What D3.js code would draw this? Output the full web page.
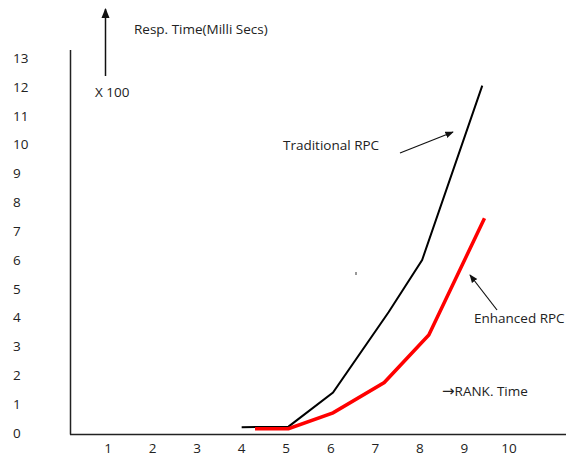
<!DOCTYPE html>
<html>
<head>
<meta charset="utf-8">
<script src="https://cdn.jsdelivr.net/npm/d3@7"></script>
<style>
  body { margin: 0; background: #fff; }
  text { font-family: "Open Sans", sans-serif; fill: #222; }
</style>
</head>
<body>
<div id="chart"></div>
<script>
const W = 566, H = 456;
const fs = "13.5px";

// rank ticks and response time ticks (x 100 ms)
const xTicks = [1, 2, 3, 4, 5, 6, 7, 8, 9, 10];
const yTicks = [0, 1, 2, 3, 4, 5, 6, 7, 8, 9, 10, 11, 12, 13];

// traditional RPC
const tradRank = [4.0, 5.05, 6.05, 7.3, 8.05, 9.4];
const tradTime = [0.2, 0.22, 1.4, 4.2, 6.0, 12.05];

// enhanced RPC
const enhRank = [4.3, 5.05, 6.05, 7.2, 8.2, 9.45];
const enhTime = [0.15, 0.15, 0.7, 1.75, 3.4, 7.45];

const x = d3.scaleLinear().domain([1, 10]).range([108, 509]);
const y = d3.scaleLinear().domain([0, 13]).range([433, 58.3]);

const svg = d3.select("#chart").append("svg")
    .attr("width", W)
    .attr("height", H);

svg.append("defs").append("marker")
    .attr("id", "arr")
    .attr("viewBox", "0 0 10 10")
    .attr("refX", 9).attr("refY", 5)
    .attr("markerWidth", 7).attr("markerHeight", 7)
    .attr("orient", "auto")
  .append("path")
    .attr("d", "M0,1 L10,5 L0,9 Z")
    .attr("fill", "#111");

// axes (plain lines like the original)
svg.append("line")
    .attr("x1", 70.5).attr("y1", 50).attr("x2", 70.5).attr("y2", 434.5)
    .attr("stroke", "#222").attr("stroke-width", 1.5);
svg.append("line")
    .attr("x1", 70).attr("y1", 434.5).attr("x2", 566).attr("y2", 434.5)
    .attr("stroke", "#222").attr("stroke-width", 1.5);

svg.selectAll(".ylab")
  .data(yTicks)
  .enter()
    .append("text")
      .attr("class", "ylab")
      .attr("x", 13)
      .attr("y", d => y(d))
      .attr("dy", "0.35em")
      .style("font-size", fs)
      .text(d => d);

svg.selectAll(".xlab")
  .data(xTicks)
  .enter()
    .append("text")
      .attr("class", "xlab")
      .attr("x", d => x(d))
      .attr("y", 453)
      .attr("text-anchor", "middle")
      .style("font-size", fs)
      .text(d => d);

const line = d3.line().x(d => x(d[0])).y(d => y(d[1]));

svg.append("path")
    .datum(d3.zip(tradRank, tradTime))
    .attr("d", line)
    .attr("fill", "none")
    .attr("stroke", "#000")
    .attr("stroke-width", 2);

svg.append("path")
    .datum(d3.zip(enhRank, enhTime))
    .attr("d", line)
    .attr("fill", "none")
    .attr("stroke", "#ff0000")
    .attr("stroke-width", 3.5);

// annotations
svg.append("line")
    .attr("x1", 105.5).attr("y1", 76).attr("x2", 105.5).attr("y2", 9)
    .attr("stroke", "#111").attr("stroke-width", 1.5)
    .attr("marker-end", "url(#arr)");

svg.append("text").attr("x", 134).attr("y", 34)
    .style("font-size", fs).text("Resp. Time(Milli Secs)");
svg.append("text").attr("x", 95).attr("y", 97)
    .style("font-size", fs).text("X 100");

svg.append("text").attr("x", 283).attr("y", 150)
    .style("font-size", fs).text("Traditional RPC");
svg.append("line")
    .attr("x1", 400).attr("y1", 153).attr("x2", 453).attr("y2", 132)
    .attr("stroke", "#111").attr("stroke-width", 1.2)
    .attr("marker-end", "url(#arr)");

svg.append("text").attr("x", 474).attr("y", 323)
    .style("font-size", fs).text("Enhanced RPC");
svg.append("line")
    .attr("x1", 497).attr("y1", 310).attr("x2", 470).attr("y2", 275)
    .attr("stroke", "#111").attr("stroke-width", 1.2)
    .attr("marker-end", "url(#arr)");

// stray mark
svg.append("line")
    .attr("x1", 356).attr("y1", 272).attr("x2", 356).attr("y2", 275)
    .attr("stroke", "#333").attr("stroke-width", 1);

const rank = svg.append("text").attr("x", 442).attr("y", 396)
    .style("font-size", fs);
rank.append("tspan").style("font-family", "'DejaVu Sans'").style("font-size", "15px").text("\u2192");
rank.append("tspan").text("RANK. Time");
</script>
</body>
</html>
